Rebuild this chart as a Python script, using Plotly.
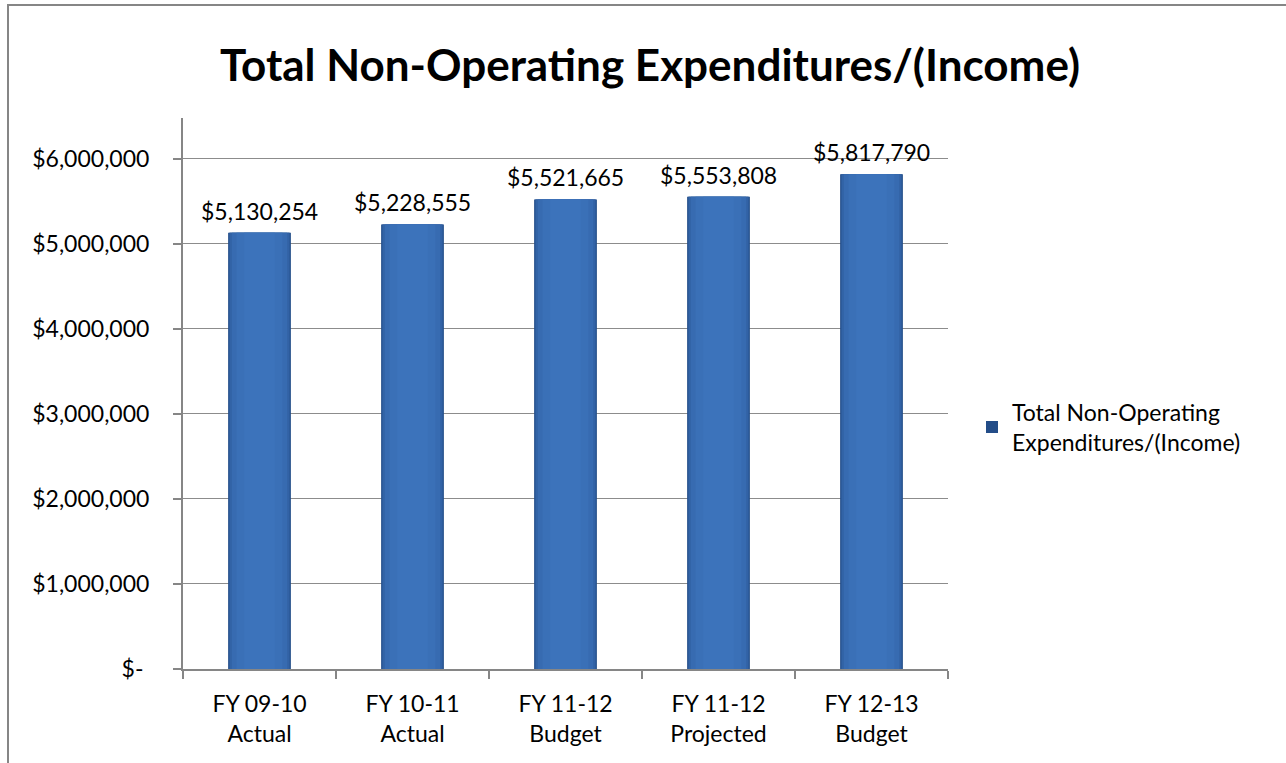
import plotly.graph_objects as go

categories = ["FY 09-10<br>Actual", "FY 10-11<br>Actual", "FY 11-12<br>Budget",
              "FY 11-12<br>Projected", "FY 12-13<br>Budget"]
values = [5130254, 5228555, 5521665, 5553808, 5817790]
tick_values = [0, 1000000, 2000000, 3000000, 4000000, 5000000, 6000000]
tick_labels = ["$-\u00a0", "$1,000,000", "$2,000,000", "$3,000,000",
               "$4,000,000", "$5,000,000", "$6,000,000"]
series_name = "Total Non-Operating<br>Expenditures/(Income)"
title_text = "Total Non-Operating Expenditures/(Income)"

W, H = 1286, 763
L, R, T, B = 183, 948, 118, 669
FONT = "Lato, Carlito, Calibri, sans-serif"
FS = 23

fig = go.Figure()

# shading layers (wide & dark -> narrow & light) to mimic the gradient
shades = [
    (0.41, "#234d88"),
    (0.40, "#2c5b9b"),
    (0.385, "#3364a7"),
    (0.36, "#376bb1"),
    (0.30, "#3a70b7"),
    (0.20, "#3c73bb"),
]
for i, (w, c) in enumerate(shades):
    fig.add_trace(go.Bar(
        x=categories, y=values, width=w,
        marker=dict(color=c, line=dict(width=0)),
        name=series_name if i == 0 else "",
        showlegend=(i == 0),
        hoverinfo="skip" if i else None,
    ))

# value labels above bars
for cat, v in zip(categories, values):
    fig.add_annotation(x=cat, y=v, text=f"${v:,.0f}", showarrow=False,
                       yanchor="bottom", yshift=6,
                       font=dict(family=FONT, size=FS, color="#000000"))

# chart border (left & top visible)
fig.add_shape(type="rect", xref="paper", yref="paper",
              x0=(8 - L) / (R - L), x1=(1300 - L) / (R - L),
              y0=(B - 780) / (B - T), y1=(B - 5) / (B - T),
              line=dict(color="#868686", width=2), fillcolor="rgba(0,0,0,0)",
              layer="below")

fig.update_layout(
    width=W, height=H,
    margin=dict(l=L, r=W - R, t=T, b=H - B, pad=0),
    paper_bgcolor="white", plot_bgcolor="white",
    barmode="overlay",
    font=dict(family=FONT, size=FS, color="#000000"),
    title=dict(text="<b>" + title_text + "</b>", x=650 / W, xanchor="center",
               y=1 - 66 / H, yanchor="middle",
               font=dict(family=FONT, size=44, color="#000000")),
    legend=dict(x=(972 - L) / (R - L), y=(B - 427) / (B - T),
                xanchor="left", yanchor="middle",
                font=dict(family=FONT, size=FS), bgcolor="rgba(0,0,0,0)",
                itemwidth=30, tracegroupgap=0),
    showlegend=True,
)

fig.update_yaxes(range=[0, 6480000], tickvals=tick_values, ticktext=tick_labels,
                 showgrid=True, gridcolor="#8c8c8c", gridwidth=1,
                 showline=True, linecolor="#868686", linewidth=2,
                 ticks="outside", ticklen=8, tickcolor="#868686", tickwidth=1.5,
                 tickfont=dict(family=FONT, size=FS), ticklabelstandoff=19,
                 zeroline=False)
fig.update_xaxes(showline=True, linecolor="#868686", linewidth=2,
                 ticks="outside", tickson="boundaries", ticklen=8,
                 tickcolor="#868686", tickwidth=1.5, ticklabelstandoff=13,
                 tickfont=dict(family=FONT, size=FS), showgrid=False)

fig.write_html("out.html", config={"displayModeBar": False},
               post_script="document.body.style.margin='0px';")
